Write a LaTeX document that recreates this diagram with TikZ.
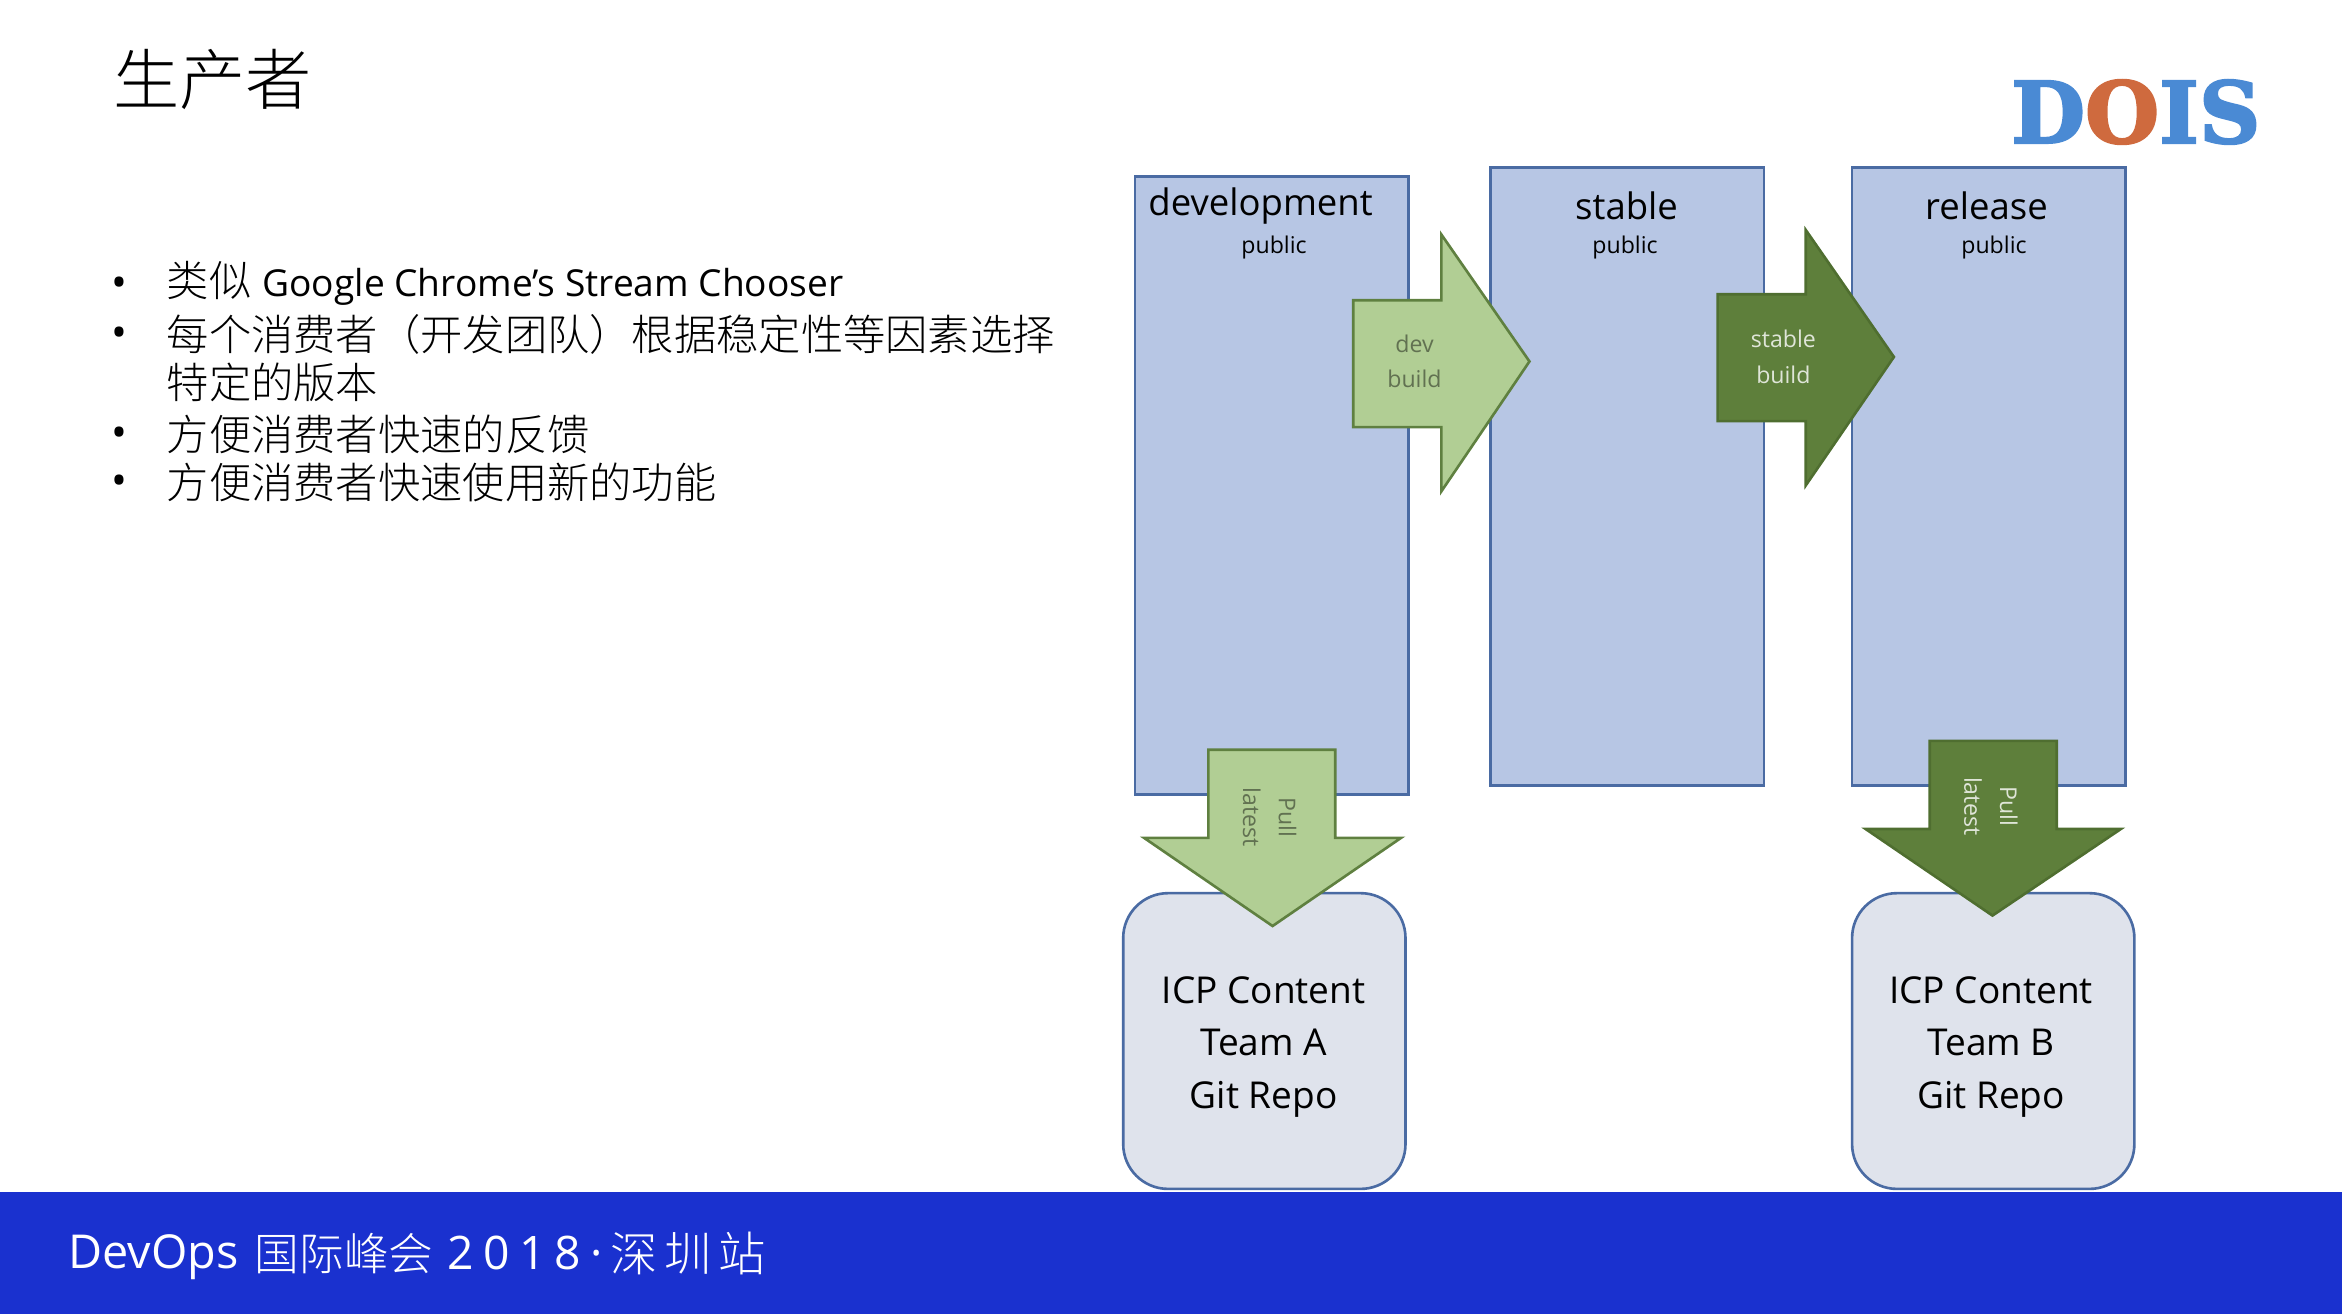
\documentclass[tikz,border=0pt]{standalone}
\usepackage{fontspec}
\usepackage[rgb]{xcolor}
\setmainfont{Open Sans}
\newfontfamily\cjk{Noto Sans CJK SC Light}
\newfontfamily\logofont[BoldFeatures={FakeBold=2.5}]{DejaVu Serif}
\newfontfamily\spaced[LetterSpace=20]{Open Sans}
\newfontfamily\cjkspaced[LetterSpace=14]{Noto Sans CJK SC Light}

\definecolor{streamblue}{HTML}{B7C6E4}
\definecolor{edgeblue}{HTML}{4A6BA3}
\definecolor{repogrey}{HTML}{DFE3EC}
\definecolor{lightgreen}{HTML}{B1CE94}
\definecolor{lightedge}{HTML}{5F8040}
\definecolor{darkgreen}{HTML}{5E7F3B}
\definecolor{darkedge}{HTML}{4F6E30}
\definecolor{barblue}{HTML}{1A31CF}
\definecolor{logoblue}{HTML}{4A8AD4}
\definecolor{logoorange}{HTML}{CF6A3E}

\tikzset{
  stream/.style={fill=streamblue, draw=edgeblue, line width=0.5pt},
  repo/.style={fill=repogrey, draw=edgeblue, line width=0.5pt, rounded corners=0.3cm},
  devarrow/.style={fill=lightgreen, draw=lightedge, line width=0.5pt},
  stablearrow/.style={fill=darkgreen, draw=darkedge, line width=0.5pt},
  big/.style={inner sep=0, font=\fontsize{6.95}{10}\selectfont},
  small/.style={inner sep=0, font=\fontsize{4.4}{6.8}\selectfont, align=center},
  repotext/.style={inner sep=0, font=\fontsize{7.05}{10}\selectfont, align=center},
  bullet/.style={inner sep=0, anchor=west, font=\fontsize{8.05}{10}\selectfont},
}

\begin{document}
\begin{tikzpicture}[x=0.01cm, y=-0.01cm]
\useasboundingbox (0,0) rectangle (1568,880);

% Title and logo
\path
(75,53) node[anchor=west, inner sep=0, font=\cjk\fontsize{12.6}{14}\selectfont] (title) {生产者}
(1430,75) node[inner sep=0, font=\logofont\bfseries\fontsize{16.2}{18}\selectfont] (logo)
  {\textcolor{logoblue}{D}\textcolor{logoorange}{O}\textcolor{logoblue}{IS}};

% Bullet list
\path
(74,192) node[bullet] (dot1) {•}
(111,190) node[bullet] (line1) {{\cjk 类似} \fontsize{7.07}{10}\selectfont Google Chrome’s Stream Chooser}
(74,226) node[bullet] (dot2) {•}
(111,224) node[bullet] (line2) {\cjk 每个消费者（开发团队）根据稳定性等因素选择}
(111,256) node[bullet] (line3) {\cjk 特定的版本}
(74,293) node[bullet] (dot3) {•}
(111,291) node[bullet] (line4) {\cjk 方便消费者快速的反馈}
(74,325) node[bullet] (dot4) {•}
(111,323) node[bullet] (line5) {\cjk 方便消费者快速使用新的功能};

% Footer bar
\fill[barblue] (0,798) rectangle (1568,880);
\path
(45,842) node[anchor=west, inner sep=0, text=white, font=\fontsize{8.9}{10}\selectfont] (devops) {DevOps}
(170,839) node[anchor=west, inner sep=0, text=white, font=\cjk\fontsize{8.5}{10}\selectfont] (summit) {国际峰会}
(299,839) node[anchor=west, inner sep=0, text=white, font=\spaced\fontsize{8.8}{10}\selectfont] (year) {2018·}
(408,839) node[anchor=west, inner sep=0, text=white, font=\cjkspaced\fontsize{9}{10}\selectfont] (city) {深圳站};

% Streams
\filldraw[stream] (760,118) rectangle (943,532);
\filldraw[stream] (998,112) rectangle (1181,526);
\filldraw[stream] (1240,112) rectangle (1423,526);

\path
(844,138) node[big] (development) {development}
(853,166) node[small] (devpublic) {public}
(1089,138) node[big] (stable) {stable}
(1088,166) node[small] (stablepublic) {public}
(1330,138) node[big] (release) {release}
(1335,166) node[small] (releasepublic) {public};

% Team repos
\filldraw[repo] (752,598) rectangle (941,796);
\filldraw[repo] (1240,598) rectangle (1429,796);

\path
(846,701) node[repotext] (repoA) {ICP Content\\Team A\\Git Repo}
(1333,701) node[repotext] (repoB) {ICP Content\\Team B\\Git Repo};

% Promotion arrows
\filldraw[devarrow] (906,201) -- (965,201) -- (965,157) -- (1024,242) -- (965,329) -- (965,286) -- (906,286) -- cycle;
\filldraw[stablearrow] (1150,197) -- (1209,197) -- (1209,154) -- (1268,239) -- (1209,325) -- (1209,282) -- (1150,282) -- cycle;

\path
(947,242) node[small, text=black!45!lightgreen] (devbuild) {dev\\build}
(1194,239) node[small, text=white!80!darkgreen] (stablebuild) {stable\\build};

% Pull arrows
\filldraw[devarrow] (809,502) -- (894,502) -- (894,561) -- (938,561) -- (852,620) -- (766,561) -- (809,561) -- cycle;
\filldraw[stablearrow] (1292,496) -- (1377,496) -- (1377,555) -- (1420,555) -- (1334,613) -- (1249,555) -- (1292,555) -- cycle;

\path
(850,547) node[small, rotate=-90, text=black!45!lightgreen] (pullA) {Pull\\latest}
(1333,540) node[small, rotate=-90, text=white!80!darkgreen] (pullB) {Pull\\latest};

\end{tikzpicture}
\end{document}
